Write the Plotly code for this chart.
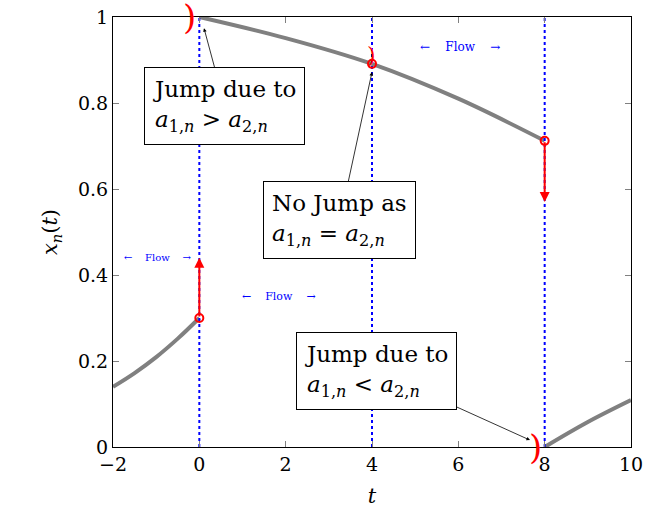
import plotly.graph_objects as go

# curve pieces
t_left = [-2, -1.5, -1, -0.5, 0]
x_left = [0.14, 0.172, 0.209, 0.252, 0.30]
t_mid = [0, 2, 4, 6, 8]
x_mid = [1.0, 0.951, 0.891, 0.81, 0.712]
t_right = [8, 9, 10]
x_right = [0.0, 0.058, 0.109]

# jump points and where the red arrows end
jump_t = [0, 4, 8]
jump_x = [0.30, 0.891, 0.712]
arrow_end = [0.44, None, 0.57]

flow_lines = [0, 4, 8]
SERIF = "DejaVu Serif, Liberation Serif, serif"

fig = go.Figure()

for tt, xx in [(t_left, x_left), (t_mid, x_mid), (t_right, x_right)]:
    fig.add_trace(go.Scatter(x=tt, y=xx, mode='lines', line=dict(color='gray', width=4, shape='spline'),
                             hoverinfo='skip', showlegend=False))

for t0 in flow_lines:
    fig.add_trace(go.Scatter(x=[t0, t0], y=[0, 1], mode='lines',
                             line=dict(color='blue', width=2, dash='dot'), showlegend=False))

fig.add_trace(go.Scatter(x=jump_t, y=jump_x, mode='markers',
                         marker=dict(size=8, color='rgba(0,0,0,0)', line=dict(color='red', width=2)),
                         showlegend=False))

for t0, x0, x1 in zip(jump_t, jump_x, arrow_end):
    if x1 is None:
        continue
    fig.add_annotation(x=t0, y=x1, ax=t0, ay=x0, axref='x', ayref='y', xref='x', yref='y',
                       text='', showarrow=True, arrowhead=2, arrowsize=1, arrowwidth=2, arrowcolor='red')

# red one-sided-limit brackets
for t0, y0, size, dx, dy in [(0, 1.0, 34, -1, 0), (4, 0.891, 22, 6, 8), (8, 0.0, 34, -1, 0)]:
    fig.add_annotation(x=t0, y=y0, text=')', showarrow=False, xanchor='right', yanchor='middle',
                       xshift=dx, yshift=dy, font=dict(family=SERIF, size=size, color='red'))

# flow labels
NB = '&nbsp;'
for tx, ty, fs, gap in [(-0.95, 0.44, 10, 4), (1.85, 0.35, 11, 4), (6.05, 0.93, 12, 4)]:
    fig.add_annotation(x=tx, y=ty, text='←' + NB * gap + 'Flow' + NB * gap + '→', showarrow=False,
                       font=dict(family=SERIF, size=fs, color='blue'))

boxes = [
    (0.594, 0.793, 0.108, 0.974, 'Jump due to<br><i>a</i><sub>1,<i>n</i></sub> &gt; <i>a</i><sub>2,<i>n</i></sub>'),
    (3.258, 0.528, 4.0, 0.872, 'No Jump as<br><i>a</i><sub>1,<i>n</i></sub> = <i>a</i><sub>2,<i>n</i></sub>'),
    (4.115, 0.177, 7.66, 0.016, 'Jump due to<br><i>a</i><sub>1,<i>n</i></sub> &lt; <i>a</i><sub>2,<i>n</i></sub>'),
]
for bx, by, px, py, txt in boxes:
    fig.add_annotation(x=px, y=py, ax=bx, ay=by, axref='x', ayref='y', text=txt, align='left',
                       showarrow=True, arrowhead=2, arrowsize=0.9, arrowwidth=0.8, arrowcolor='black',
                       bordercolor='black', borderwidth=1, borderpad=8, bgcolor='white',
                       font=dict(family=SERIF, size=23, color='black'))

axis_common = dict(showgrid=False, zeroline=False, showline=True, linecolor='black', linewidth=1,
                   mirror='ticks', ticks='inside', ticklen=6, tickcolor='gray', automargin=False,
                   ticklabeloverflow='allow', tickfont=dict(family=SERIF, size=19, color='black'))

fig.update_layout(
    width=645, height=518,
    margin=dict(l=113, r=14, t=17, b=71),
    plot_bgcolor='white', paper_bgcolor='white',
    xaxis=dict(range=[-2, 10], tickvals=[-2, 0, 2, 4, 6, 8, 10],
               title=dict(text='<i>t</i>', font=dict(family=SERIF, size=21, color='black'), standoff=14),
               **axis_common),
    yaxis=dict(range=[0, 1], tickvals=[0, 0.2, 0.4, 0.6, 0.8, 1], ticktext=['0', '0.2', '0.4', '0.6', '0.8', '1'],
               title=dict(text='<i>x</i><sub><i>n</i></sub>(<i>t</i>)', font=dict(family=SERIF, size=21, color='black'),
                          standoff=14),
               **axis_common),
)

# drop the default page margin so the figure sits at the window corner
fig.write_html("out.html", config={'displayModeBar': False},
               post_script="document.body.style.margin='0'; document.body.style.overflow='hidden';")
